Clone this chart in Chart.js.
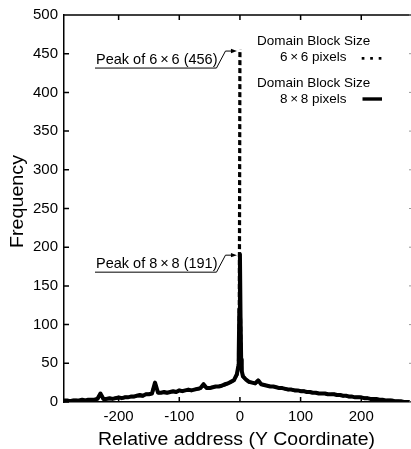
<!DOCTYPE html>
<html>
<head>
<meta charset="utf-8">
<script src="https://cdn.jsdelivr.net/npm/chart.js@4.4.1/dist/chart.umd.min.js"></script>
<style>
  body { margin: 0; background: #fff; }
</style>
</head>
<body>
<canvas id="histChart" width="411" height="449"></canvas>
<script>
// relative address (Y coordinate), finer steps around the peak
const addresses = [
  -290, -285, -280, -275, -270, -265, -260, -255, -250, -245,
  -240, -235, -230, -225, -220, -215, -210, -205, -200, -195,
  -190, -185, -180, -175, -170, -165, -160, -155, -150, -145,
  -140, -135, -130, -125, -120, -115, -110, -105, -100, -95,
  -90, -85, -80, -75, -70, -65, -60, -55, -50, -45,
  -40, -35, -30, -25, -20, -15, -10, -5,
  -3, -2, -1, 0, 1, 2, 3,
  5, 10, 15, 20, 25, 30, 35, 40, 45, 50,
  55, 60, 65, 70, 75, 80, 85, 90, 95, 100,
  105, 110, 115, 120, 125, 130, 135, 140, 145, 150,
  155, 160, 165, 170, 175, 180, 185, 190, 195, 200,
  205, 210, 215, 220, 225, 230, 235, 240, 245, 250,
  255, 260, 265, 270, 275, 280
];

// domain block size 8x8 (solid)
const freq8x8 = [
  2, 2, 1, 2, 2, 2, 3, 2, 3, 3,
  3, 4, 11, 4, 4, 5, 4, 5, 6, 5,
  6, 6, 7, 7, 8, 9, 8, 10, 10, 11,
  25, 12, 12, 13, 12, 13, 14, 13, 15, 14,
  15, 16, 15, 16, 17, 18, 23, 18, 18, 19,
  20, 20, 21, 23, 24, 26, 28, 36,
  45, 62, 120, 191, 110, 55, 40,
  33, 29, 26, 25, 24, 28, 23, 22, 21, 20,
  20, 19, 18, 18, 17, 16, 16, 15, 15, 14,
  14, 13, 13, 12, 12, 11, 11, 11, 10, 10,
  10, 9, 9, 8, 8, 7, 7, 6, 6, 6,
  5, 5, 4, 4, 4, 3, 3, 2, 2, 2,
  1, 1, 1, 0, 0, 0
];

// domain block size 6x6 (dotted)
const freq6x6 = [
  2, 1, 1, 2, 2, 2, 2, 2, 3, 3,
  3, 4, 10, 4, 4, 4, 4, 5, 5, 5,
  6, 6, 7, 7, 8, 8, 8, 10, 10, 11,
  24, 12, 12, 12, 12, 13, 13, 13, 15, 14,
  15, 15, 15, 16, 17, 17, 22, 18, 18, 19,
  20, 20, 21, 22, 24, 26, 28, 35,
  44, 60, 118, 456, 108, 54, 40,
  33, 29, 26, 25, 24, 27, 23, 22, 21, 20,
  20, 19, 18, 18, 17, 16, 16, 15, 15, 14,
  14, 13, 13, 12, 12, 11, 11, 11, 10, 10,
  10, 9, 9, 8, 8, 7, 7, 6, 6, 6,
  5, 5, 4, 4, 4, 3, 3, 2, 2, 2,
  1, 1, 1, 0, 0, 0
];

const xTicks = [-200, -100, 0, 100, 200];
const yTicks = [0, 50, 100, 150, 200, 250, 300, 350, 400, 450, 500];

const FONT = '"Liberation Sans", Arial, Helvetica, sans-serif';

function textFit(ctx, text, x, y, width) {
  // squeeze / stretch the text to the width measured in the picture
  const w = ctx.measureText(text).width;
  ctx.save();
  ctx.translate(x, y);
  ctx.scale(width / w, 1);
  ctx.fillText(text, 0, 0);
  ctx.restore();
}

function peakNote(ctx, text, tipX, tipY) {
  ctx.font = '14.5px ' + FONT;
  ctx.textAlign = 'left';
  ctx.textBaseline = 'alphabetic';
  ctx.fillText(text, 96, tipY + 13);
  const end = 96 + ctx.measureText(text).width;
  ctx.lineWidth = 1;
  ctx.beginPath();
  ctx.moveTo(95, tipY + 17);
  ctx.lineTo(end - 1, tipY + 17);
  ctx.lineTo(end + 8, tipY);
  ctx.lineTo(tipX - 4, tipY);
  ctx.stroke();
  ctx.beginPath();
  ctx.moveTo(tipX, tipY);
  ctx.lineTo(tipX - 6, tipY - 2.2);
  ctx.lineTo(tipX - 6, tipY + 2.2);
  ctx.closePath();
  ctx.fill();
}

const framePlugin = {
  id: 'framePlugin',
  afterDraw(chart) {
    const { ctx, chartArea: a, scales: { x, y } } = chart;
    ctx.save();
    ctx.strokeStyle = '#000';
    ctx.fillStyle = '#000';

    // top border and inward ticks
    ctx.lineWidth = 1.5;
    ctx.beginPath();
    ctx.moveTo(a.left, a.top);
    ctx.lineTo(a.right, a.top);
    xTicks.forEach(v => {
      const px = x.getPixelForValue(v);
      ctx.moveTo(px, a.bottom);
      ctx.lineTo(px, a.bottom - 5);
      ctx.moveTo(px, a.top);
      ctx.lineTo(px, a.top + 5);
    });
    yTicks.forEach(v => {
      const py = y.getPixelForValue(v);
      ctx.moveTo(a.left, py);
      ctx.lineTo(a.left + 5, py);
    });
    ctx.stroke();

    // right axis ticks, just visible at the cut edge
    ctx.strokeStyle = '#999';
    ctx.lineWidth = 1;
    ctx.beginPath();
    yTicks.forEach(v => {
      const py = y.getPixelForValue(v);
      ctx.moveTo(a.right - 2, py);
      ctx.lineTo(a.right, py);
    });
    ctx.stroke();
    ctx.strokeStyle = '#000';

    // axis titles
    ctx.font = '18px ' + FONT;
    ctx.textAlign = 'left';
    ctx.textBaseline = 'alphabetic';
    textFit(ctx, 'Relative address (Y Coordinate)', 98, 445, 277);
    ctx.save();
    ctx.translate(23, 248);
    ctx.rotate(-Math.PI / 2);
    textFit(ctx, 'Frequency', 0, 0, 93);
    ctx.restore();

    // peak notes
    const px0 = x.getPixelForValue(0);
    peakNote(ctx, 'Peak of 6\u2009×\u20096 (456)', px0 - 3, y.getPixelForValue(456) + 2);
    peakNote(ctx, 'Peak of 8\u2009×\u20098 (191)', px0 - 3, y.getPixelForValue(191) + 1);

    // legend
    ctx.font = '13.5px ' + FONT;
    ctx.fillText('Domain Block Size', 257, 45);
    ctx.fillText('6\u2009×\u20096 pixels', 280, 61);
    ctx.fillText('Domain Block Size', 257, 87);
    ctx.fillText('8\u2009×\u20098 pixels', 280, 103);
    [363, 371.5, 380].forEach(dx => ctx.fillRect(dx - 1.3, 57, 2.7, 2.7));
    ctx.fillRect(362.5, 97.3, 19.5, 3.4);

    ctx.restore();
  }
};

const ctx = document.getElementById('histChart');

new Chart(ctx, {
  type: 'line',
  data: {
    datasets: [{
      label: '8x8 pixels',
      data: addresses.map((a, i) => ({ x: a, y: freq8x8[i] })),
      borderColor: '#000',
      borderWidth: 4,
      borderJoinStyle: 'round',
      pointRadius: 0,
      tension: 0,
      order: 0
    }, {
      label: '6x6 pixels',
      data: addresses.map((a, i) => ({ x: a, y: freq6x6[i] })),
      borderColor: '#000',
      borderWidth: 3.2,
      borderDash: [5, 3],
      borderJoinStyle: 'bevel',
      pointRadius: 0,
      tension: 0,
      order: 1,
      // the fall back down from the peak runs on top of the rise;
      // two dash patterns out of phase would read as a solid line
      segment: {
        borderColor: c => (c.p0.parsed.y > 300 ? 'rgba(0,0,0,0)' : undefined)
      }
    }]
  },
  options: {
    responsive: false,
    animation: false,
    layout: { padding: { top: 14, right: 0, bottom: 17, left: 27 } },
    plugins: {
      legend: { display: false },
      tooltip: { enabled: false }
    },
    scales: {
      x: {
        type: 'linear',
        min: -290,
        max: 282,
        afterBuildTicks: scale => { scale.ticks = xTicks.map(v => ({ value: v })); },
        ticks: { color: '#000', font: { size: 15, family: FONT }, padding: 6, maxRotation: 0 },
        grid: { display: false, drawTicks: false, tickLength: 0 },
        border: { display: true, color: '#000', width: 1.5 }
      },
      y: {
        min: 0,
        max: 500,
        afterBuildTicks: scale => { scale.ticks = yTicks.map(v => ({ value: v })); },
        ticks: { color: '#000', font: { size: 15, family: FONT }, padding: 6 },
        grid: { display: false, drawTicks: false, tickLength: 0 },
        border: { display: true, color: '#000', width: 1.5 }
      }
    }
  },
  plugins: [framePlugin]
});
</script>
</body>
</html>
